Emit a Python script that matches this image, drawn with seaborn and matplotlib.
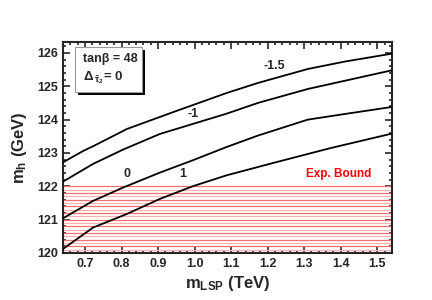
import numpy as np
import pandas as pd
import seaborn as sns
import matplotlib
matplotlib.use("Agg")
import matplotlib.pyplot as plt
from matplotlib.ticker import MultipleLocator

# contour lines of m_h vs m_LSP
m_lsp_a = [0.64, 0.695, 0.722, 0.815, 0.95, 1.088, 1.173, 1.31, 1.41, 1.54]
mh_a = [122.72, 123.06, 123.2, 123.72, 124.26, 124.8, 125.1, 125.52, 125.74, 125.98]   # -1.5

m_lsp_b = [0.64, 0.722, 0.804, 0.905, 0.95, 1.088, 1.173, 1.31, 1.54]
mh_b = [122.14, 122.67, 123.1, 123.57, 123.72, 124.18, 124.5, 124.92, 125.48]   # -1

m_lsp_c = [0.64, 0.722, 0.804, 0.905, 0.995, 1.088, 1.173, 1.31, 1.43, 1.54]
mh_c = [121.04, 121.56, 121.96, 122.41, 122.78, 123.18, 123.52, 124.0, 124.2, 124.38]   # 0

m_lsp_d = [0.64, 0.722, 0.815, 0.905, 0.995, 1.088, 1.219, 1.37, 1.54]
mh_d = [120.12, 120.76, 121.17, 121.62, 122.0, 122.33, 122.71, 123.14, 123.58]   # 1

labels = ["-1.5", "-1", "0", "1"]
label_x = [1.219, 0.995, 0.815, 0.968]
label_y = [125.62, 124.17, 122.37, 122.37]

bound = 122.0

frames = []
for lab, xs, ys in zip(labels, [m_lsp_a, m_lsp_b, m_lsp_c, m_lsp_d], [mh_a, mh_b, mh_c, mh_d]):
    frames.append(pd.DataFrame({"m_lsp": xs, "mh": ys, "delta": lab}))
df = pd.concat(frames, ignore_index=True)

sns.set_style("ticks")
plt.rcParams["font.family"] = ["Liberation Sans", "DejaVu Sans"]
plt.rcParams["font.weight"] = "bold"
plt.rcParams["mathtext.fontset"] = "custom"
plt.rcParams["mathtext.rm"] = "Liberation Sans:bold"
plt.rcParams["mathtext.it"] = "Liberation Sans:bold"
plt.rcParams["mathtext.bf"] = "Liberation Sans:bold"

fig = plt.figure(figsize=(4.32, 3.0), dpi=100)
ax = fig.add_axes([0.146, 0.157, 0.761, 0.703])

# excluded region: hatched with horizontal red lines
for i, yv in enumerate(np.arange(120.1, bound + 0.001, 0.1)):
    ax.axhline(yv, color="#f07070" if i % 2 else "#ffb0b0", lw=0.9, zorder=1)

sns.lineplot(data=df, x="m_lsp", y="mh", units="delta", estimator=None,
             color="black", lw=1.3, sort=False, ax=ax, zorder=3)

for lab, lx, ly in zip(labels, label_x, label_y):
    ax.text(lx, ly, lab, ha="center", va="center", fontsize=9, fontweight="bold")

ax.text(1.394, 122.37, "Exp. Bound", color="red", ha="center", va="center",
        fontsize=8.5, fontweight="bold")

# info box with a black drop shadow
ax.add_patch(plt.Rectangle((0.046, 0.748), 0.204, 0.213, transform=ax.transAxes,
                           fc="black", ec="none", zorder=4))
ax.add_patch(plt.Rectangle((0.036, 0.763), 0.204, 0.213, transform=ax.transAxes,
                           fc="white", ec="#999999", lw=0.8, zorder=5))
ax.text(0.062, 0.92, "tan\u03b2 = 48", transform=ax.transAxes, ha="left", va="center",
        fontsize=9, fontweight="bold", zorder=6)
ax.text(0.062, 0.83, r"$\Delta\,_{\tilde{\tau}_{2}}$= 0", transform=ax.transAxes,
        ha="left", va="center", fontsize=9.5, fontweight="bold", zorder=6)

ax.set_xlim(0.64, 1.54)
ax.set_ylim(120, 126.33)
ax.xaxis.set_major_locator(MultipleLocator(0.1))
ax.xaxis.set_minor_locator(MultipleLocator(0.02))
ax.yaxis.set_major_locator(MultipleLocator(1))
ax.yaxis.set_minor_locator(MultipleLocator(0.2))
ax.tick_params(which="both", direction="in", top=True, right=True, width=1.2)
ax.tick_params(which="major", length=5, labelsize=9)
ax.tick_params(which="minor", length=2.5)
for s in ax.spines.values():
    s.set_linewidth(1.5)
ax.set_yticks([120, 121, 122, 123, 124, 125, 126])
ax.set_xticks(np.arange(0.7, 1.51, 0.1))
ax.set_xticklabels(["0.7", "0.8", "0.9", "1.0", "1.1", "1.2", "1.3", "1.4", "1.5"], fontweight="bold")
ax.set_yticklabels(["120", "121", "122", "123", "124", "125", "126"], fontweight="bold")

ax.set_xlabel(r"m$_{\mathregular{LSP}}$ (TeV)", fontsize=12, fontweight="bold", labelpad=3)
ax.set_ylabel(r"m$_{\mathregular{h}}$ (GeV)", fontsize=12, fontweight="bold", labelpad=6)

fig.savefig("out.png", dpi=100)
